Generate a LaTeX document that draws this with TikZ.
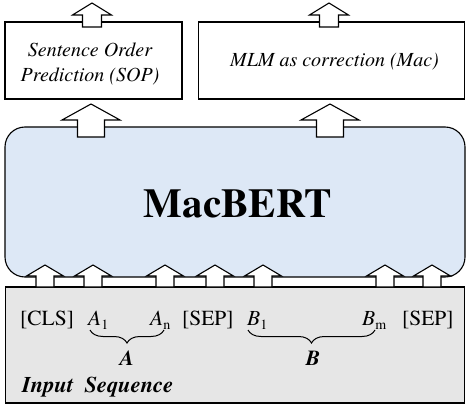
\documentclass[tikz,border=0pt]{standalone}
\usepackage{fontspec}
\setmainfont{texgyretermes}[Extension=.otf, UprightFont=*-regular, BoldFont=*-bold, ItalicFont=*-italic, BoldItalicFont=*-bolditalic]
\usetikzlibrary{decorations.pathreplacing}
\definecolor{macblue}{RGB}{221,232,246}
\definecolor{inpgray}{RGB}{230,230,230}
\newcommand\tokfont{\fontsize{21.5}{25}\selectfont}
\newcommand\subfont{\fontsize{14}{16}\selectfont}
\newcommand\tokidx[2]{\textit{#1}\raisebox{-0.22em}{\subfont #2}}
\tikzset{
  arrowshape/.style={draw=black, fill=white, line width=1.1pt, line join=miter},
  pics/blockarrow/.style n args={4}{code={%
    \draw[arrowshape] (0,0) -- (#1,#3) -- (#2,#3) -- (#2,#4) -- (-#2,#4) -- (-#2,#3) -- (-#1,#3) -- cycle;}},
  taskbox/.style={draw=black, fill=white, line width=1.1pt, inner sep=0pt},
  macbox/.style={draw=black, fill=macblue, line width=1.1pt, rounded corners=20pt, inner sep=0pt},
  inbox/.style={draw=black, fill=inpgray, line width=1.1pt, inner sep=0pt},
  tasktext/.style={font=\fontsize{20}{25}\selectfont\itshape, inner sep=0pt},
  bigtext/.style={font=\fontsize{41}{45}\selectfont\bfseries, inner sep=0pt},
  toktext/.style={font=\tokfont, inner sep=0pt, anchor=base west},
  seglabel/.style={font=\fontsize{21.5}{25}\selectfont\bfseries\itshape, inner sep=0pt, anchor=base},
  bracestyle/.style={draw=black, line width=1pt, decorate, decoration={brace, mirror, amplitude=13pt}},
}
\begin{document}
\begin{tikzpicture}[x=1pt,y=-1pt]
\useasboundingbox (0,0) rectangle (466,409);
% boxes
\node[taskbox, minimum width=177pt, minimum height=77pt] (sop) at (93.5,60.5) {};
\node[taskbox, minimum width=266pt, minimum height=77pt] (mlm) at (331.5,60.5) {};
\node[macbox, minimum width=460pt, minimum height=150pt] (mac) at (235,202) {};
\node[inbox, minimum width=459pt, minimum height=116pt] (input) at (235,345) {};
% texts
\node[tasktext, anchor=base] (sop1) at (90,57) {Sentence Order};
\node[tasktext, anchor=base] (sop2) at (90,82) {Prediction (SOP)};
\node[tasktext, anchor=base] (mlmt) at (334.5,67) {MLM as correction (Mac)};
\node[bigtext, anchor=base] (macbert) at (238,218) {MacBERT};
% tokens
\node[toktext] (cls) at (20,325) {[CLS]};
\node[toktext] (a1) at (88,325) {\tokidx{A}{1}};
\node[toktext] (an) at (150,325) {\tokidx{A}{n}};
\node[toktext] (sep1) at (182,325) {[SEP]};
\node[toktext] (b1) at (247,325) {\tokidx{B}{1}};
\node[toktext] (bm) at (362,325) {\tokidx{B}{m}};
\node[toktext] (sep2) at (402,325) {[SEP]};
% braces
\coordinate (abl) at (90,330);
\coordinate (abr) at (164,330);
\coordinate (bbl) at (248,330);
\coordinate (bbr) at (375,330);
\draw[bracestyle] (abl) -- (abr);
\draw[bracestyle] (bbl) -- (bbr);
\node[seglabel] (alab) at (127,365) {A};
\node[seglabel] (blab) at (313,365) {B};
\node[font=\fontsize{22.5}{26}\selectfont\bfseries\itshape, inner sep=0pt, anchor=base west] (inseq) at (22,392) {Input\hspace{0.5em}Sequence};
% top arrows
\pic at (92,3) {blockarrow={19.5}{9.5}{12}{24}};
\pic at (329,3) {blockarrow={19.5}{9.5}{12}{24}};
% middle arrows
\pic at (91,104) {blockarrow={29}{13.5}{16}{33}};
\pic at (330,104) {blockarrow={29}{13.5}{16}{33}};
% input arrows
\foreach \cx in {45,93,165,215,263,385,432}{
  \pic at (\cx,265) {blockarrow={18.5}{9}{11}{22}};
}
\end{tikzpicture}
\end{document}
